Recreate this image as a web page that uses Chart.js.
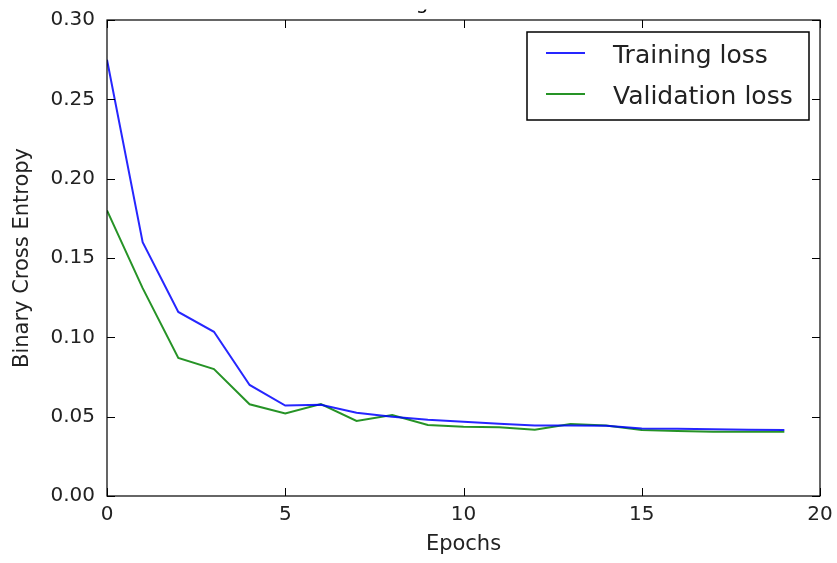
<!DOCTYPE html>
<html>
<head>
<meta charset="utf-8">
<script src="https://cdn.jsdelivr.net/npm/chart.js@4"></script>
<style>
  html, body { margin: 0; padding: 0; background: #fff; }
  #wrap { width: 837px; height: 563px; }
</style>
</head>
<body>
<div id="wrap"><canvas id="myChart" width="837" height="563"></canvas></div>
<script>
const epochs = [0, 1, 2, 3, 4, 5, 6, 7, 8, 9, 10, 11, 12, 13, 14, 15, 16, 17, 18, 19];
const trainingLoss = [0.275, 0.160, 0.116, 0.1035, 0.070, 0.057, 0.0575, 0.0525, 0.050, 0.048, 0.0468,
  0.0455, 0.0445, 0.0445, 0.0442, 0.0425, 0.0424, 0.042, 0.0418, 0.0416];
const validationLoss = [0.180, 0.131, 0.087, 0.080, 0.0578, 0.052, 0.058, 0.0473, 0.051, 0.0447, 0.0437,
  0.0433, 0.0418, 0.0454, 0.0445, 0.0416, 0.041, 0.0405, 0.0405, 0.0405];
const seriesNames = ["Training loss", "Validation loss"];
const seriesColors = ["rgba(0,0,255,0.85)", "rgba(0,128,0,0.85)"];
const xTicks = [0, 5, 10, 15, 20];
const yTicks = [0, 0.05, 0.10, 0.15, 0.20, 0.25, 0.30];
const titleText = "Training and Validation";

const FONT = "'DejaVu Sans', sans-serif";
const ctx = document.getElementById("myChart");

// frame, inward ticks, clipped title remnant and legend box
const decorations = {
  id: "decorations",
  afterDraw(chart) {
    const c = chart.ctx;
    const area = chart.chartArea;
    const xs = chart.scales.x;
    const ys = chart.scales.y;
    c.save();
    c.strokeStyle = "#000";
    c.lineWidth = 1.2;
    c.strokeRect(area.left, area.top, area.right - area.left, area.bottom - area.top);

    c.lineWidth = 1;
    const len = 8;
    xTicks.forEach((v) => {
      const px = Math.round(xs.getPixelForValue(v)) + 0.5;
      c.beginPath();
      c.moveTo(px, area.bottom); c.lineTo(px, area.bottom - len);
      c.moveTo(px, area.top); c.lineTo(px, area.top + len);
      c.stroke();
    });
    yTicks.forEach((v) => {
      const py = Math.round(ys.getPixelForValue(v)) + 0.5;
      c.beginPath();
      c.moveTo(area.left, py); c.lineTo(area.left + len, py);
      c.moveTo(area.right, py); c.lineTo(area.right - len, py);
      c.stroke();
    });

    // title sits mostly above the picture, only its lower edge shows
    c.save();
    c.beginPath();
    c.rect(0, 9.5, chart.width, area.top - 10.5);
    c.clip();
    c.fillStyle = "#000";
    c.font = "20px " + FONT;
    c.textAlign = "center";
    c.textBaseline = "alphabetic";
    c.fillText(titleText, (area.left + area.right) / 2, 9);
    c.restore();

    // legend
    const bx = 527, by = 32, bw = 282, bh = 88;
    c.fillStyle = "#fff";
    c.fillRect(bx, by, bw, bh);
    c.lineWidth = 1.5;
    c.strokeStyle = "#000";
    c.strokeRect(bx, by, bw, bh);
    c.font = "25px " + FONT;
    c.textAlign = "left";
    seriesNames.forEach((name, i) => {
      const ly = 53 + i * 41;
      c.strokeStyle = seriesColors[i];
      c.lineWidth = 2;
      c.beginPath();
      c.moveTo(546, ly); c.lineTo(585, ly);
      c.stroke();
      c.fillStyle = "#222";
      c.fillText(name, 613, ly + 10);
    });
    c.restore();
  }
};

const chart = new Chart(ctx, {
  type: "line",
  data: {
    labels: epochs,
    datasets: [
      {
        label: seriesNames[0],
        data: trainingLoss.map((v, i) => ({ x: epochs[i], y: v })),
        borderColor: seriesColors[0],
        borderWidth: 2,
        pointRadius: 0,
        tension: 0,
        fill: false,
      },
      {
        label: seriesNames[1],
        data: validationLoss.map((v, i) => ({ x: epochs[i], y: v })),
        borderColor: seriesColors[1],
        borderWidth: 2,
        pointRadius: 0,
        tension: 0,
        fill: false,
      },
    ],
  },
  options: {
    responsive: false,
    animation: false,
    layout: { padding: { left: 0, top: 20, right: 17, bottom: 0 } },
    plugins: { legend: { display: false }, tooltip: { enabled: false } },
    scales: {
      x: {
        type: "linear",
        min: 0,
        max: 20,
        afterBuildTicks: (scale) => { scale.ticks = xTicks.map((v) => ({ value: v })); },
        afterFit: (scale) => {
          scale.height = 67;
          scale.paddingLeft = 0;
          scale.paddingRight = 0;
        },
        grid: { display: false, drawTicks: false },
        border: { display: false },
        ticks: { padding: 7, color: "#222", font: { family: FONT, size: 20 } },
        title: {
          display: true,
          text: "Epochs",
          color: "#222",
          font: { family: FONT, size: 21 },
          padding: { top: 0, bottom: 6 },
        },
      },
      y: {
        min: 0,
        max: 0.3,
        afterBuildTicks: (scale) => { scale.ticks = yTicks.map((v) => ({ value: v })); },
        afterFit: (scale) => {
          scale.width = 107;
          scale.paddingTop = 0;
          scale.paddingBottom = 0;
        },
        grid: { display: false, drawTicks: false },
        border: { display: false },
        ticks: {
          padding: 12,
          color: "#222",
          font: { family: FONT, size: 20 },
          callback: (v) => Number(v).toFixed(2),
        },
        title: {
          display: true,
          text: "Binary Cross Entropy",
          color: "#222",
          font: { family: FONT, size: 21 },
          padding: { top: 10, bottom: 0 },
        },
      },
    },
  },
  plugins: [decorations],
});
</script>
</body>
</html>
